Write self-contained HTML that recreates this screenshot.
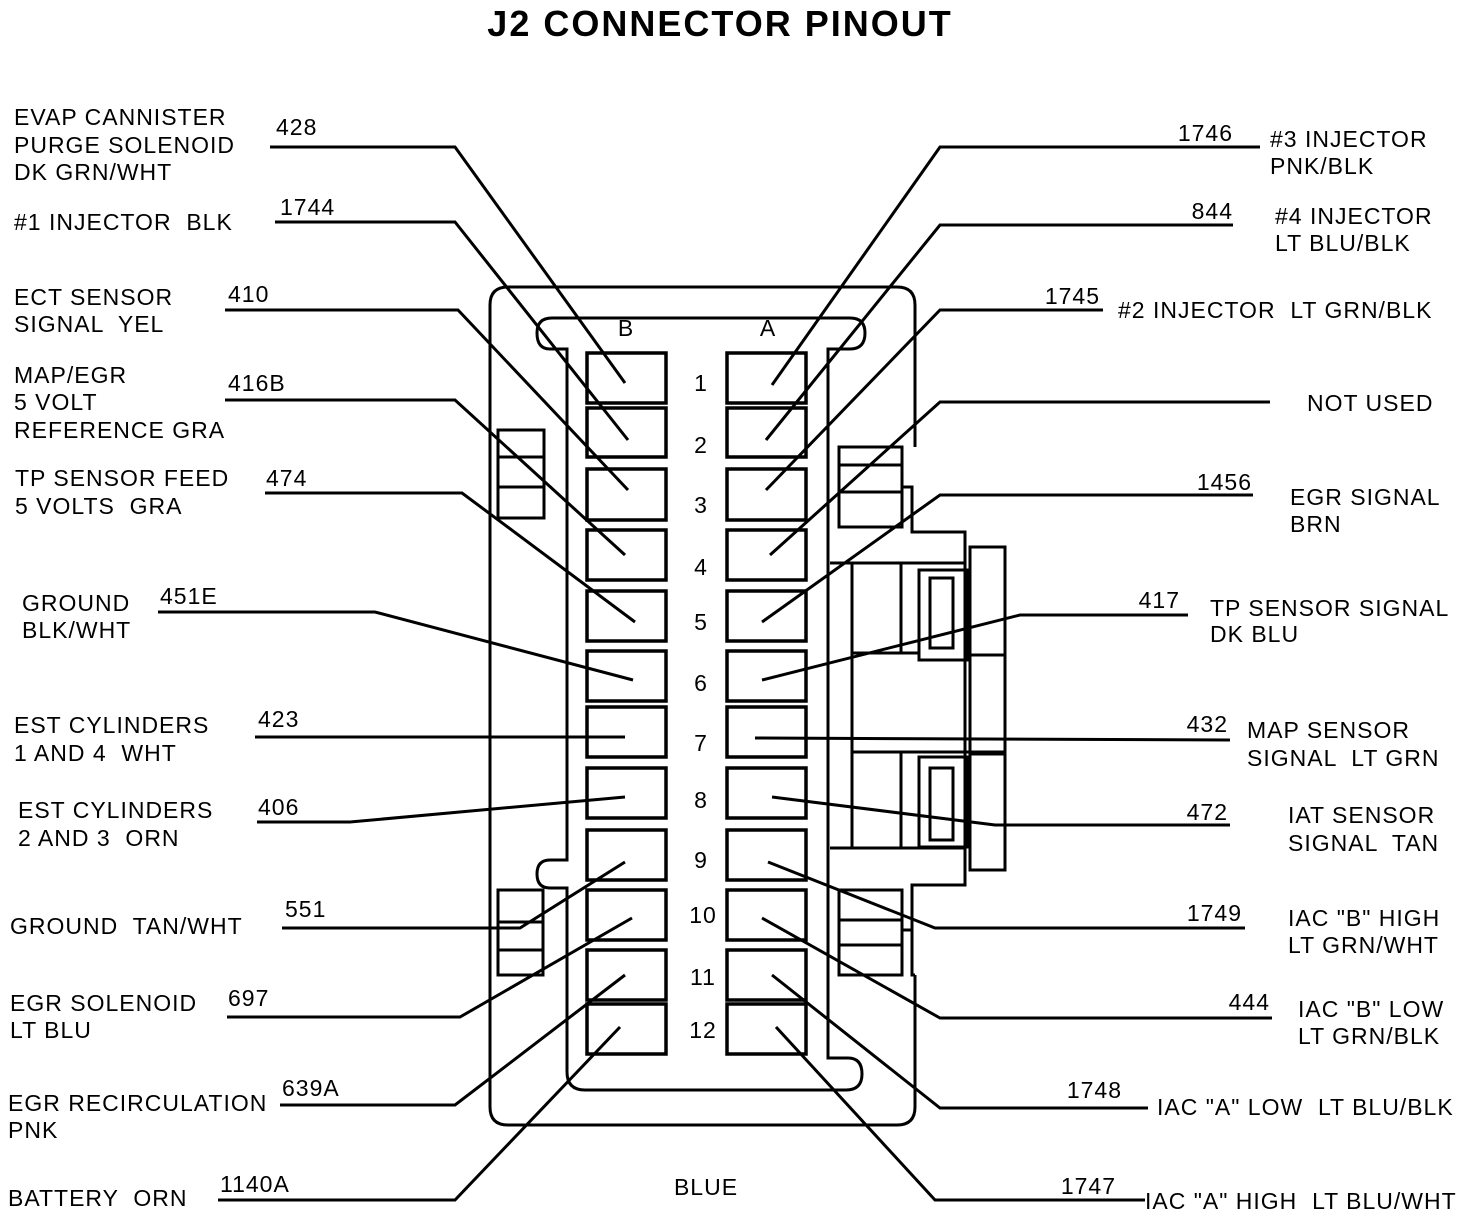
<!DOCTYPE html>
<html><head><meta charset="utf-8"><style>
html,body{margin:0;padding:0;background:#fff;}
svg{display:block}
text{font-family:"Liberation Sans",Arial,sans-serif;font-size:23px;fill:#000;letter-spacing:1px;white-space:pre;}
</style></head><body>
<svg width="1472" height="1220" viewBox="0 0 1472 1220" xmlns="http://www.w3.org/2000/svg" xml:space="preserve">
<text x="720" y="36" text-anchor="middle" style="font-size:36px;font-weight:bold;letter-spacing:2px">J2 CONNECTOR PINOUT</text>
<g fill="none" stroke="#000" stroke-width="3">
<path d="M915 447 L915 305 Q915 287 897 287 L508 287 Q490 287 490 305 L490 1107 Q490 1125 508 1125 L897 1125 Q915 1125 915 1107 L915 975"/>
<path d="M567 349 L550 349 Q537 349 537 333 Q537 318 552 318 L850 318 Q865 318 865 333 Q865 349 850 349 L828 349 L828 1058 L848 1058 Q862 1058 862 1074 Q862 1090 846 1090 L585 1090 Q567 1090 567 1072 L567 888 L550 888 Q537 888 537 874 Q537 860 550 860 L567 860 Z"/>
<g stroke-width="3.5">
<rect x="587" y="353" width="79" height="50"/><rect x="727" y="353" width="79" height="50"/>
<rect x="587" y="408" width="79" height="49"/><rect x="727" y="408" width="79" height="49"/>
<rect x="587" y="469" width="79" height="51"/><rect x="727" y="469" width="79" height="51"/>
<rect x="587" y="530" width="79" height="50"/><rect x="727" y="530" width="79" height="50"/>
<rect x="587" y="591" width="79" height="50"/><rect x="727" y="591" width="79" height="50"/>
<rect x="587" y="651" width="79" height="50"/><rect x="727" y="651" width="79" height="50"/>
<rect x="587" y="707" width="79" height="50"/><rect x="727" y="707" width="79" height="50"/>
<rect x="587" y="768" width="79" height="50"/><rect x="727" y="768" width="79" height="50"/>
<rect x="587" y="830" width="79" height="50"/><rect x="727" y="830" width="79" height="50"/>
<rect x="587" y="890" width="79" height="50"/><rect x="727" y="890" width="79" height="50"/>
<rect x="587" y="950" width="79" height="50"/><rect x="727" y="950" width="79" height="50"/>
<rect x="587" y="1004" width="79" height="50"/><rect x="727" y="1004" width="79" height="50"/>
</g>
<rect x="498" y="430" width="46" height="88"/><line x1="498" y1="457" x2="544" y2="457"/><line x1="498" y1="487" x2="544" y2="487"/>
<rect x="498" y="890" width="45" height="85"/><line x1="498" y1="922" x2="543" y2="922"/><line x1="498" y1="950" x2="543" y2="950"/>
<rect x="839" y="447" width="63" height="80"/><line x1="839" y1="465" x2="902" y2="465"/><line x1="839" y1="492" x2="902" y2="492"/>
<path d="M902 487 L912 487 L912 532 L965 532 L965 885 L912 885 L912 930 L902 930"/>
<rect x="839" y="890" width="63" height="85"/><line x1="839" y1="920" x2="902" y2="920"/><line x1="839" y1="945" x2="902" y2="945"/>
<path d="M902 930 L912 930 L912 975 L915 975"/>
<line x1="830" y1="563" x2="965" y2="563"/>
<line x1="852" y1="563" x2="852" y2="848"/>
<line x1="901" y1="563" x2="901" y2="653"/><line x1="901" y1="752" x2="901" y2="848"/>
<line x1="830" y1="848" x2="965" y2="848"/>
<line x1="852" y1="653" x2="920" y2="653"/>
<line x1="852" y1="752" x2="1005" y2="752"/>
<rect x="919" y="570" width="49" height="90"/><rect x="930" y="578" width="23" height="70"/>
<rect x="919" y="757" width="49" height="90"/><rect x="930" y="768" width="23" height="72"/>
<rect x="970" y="547" width="35" height="323"/><line x1="970" y1="655" x2="1005" y2="655"/><line x1="970" y1="754" x2="1005" y2="754"/>
<polyline points="270,147 455,147 625,383"/>
<polyline points="275,222 455,222 628,440"/>
<polyline points="225,310 458,310 628,490"/>
<polyline points="225,400 455,400 625,555"/>
<polyline points="265,493 462,493 635,622"/>
<polyline points="158,612 375,612 633,680"/>
<polyline points="255,737 625,737"/>
<polyline points="257,822 350,822 625,797"/>
<polyline points="282,928 520,928 625,862"/>
<polyline points="227,1017 460,1017 632,918"/>
<polyline points="280,1105 455,1105 625,975"/>
<polyline points="218,1200 455,1200 620,1027"/>
<polyline points="1260,147 940,147 772,385"/>
<polyline points="1233,225 940,225 766,440"/>
<polyline points="1103,310 940,310 766,490"/>
<polyline points="1270,402 940,402 770,555"/>
<polyline points="1253,495 940,495 762,622"/>
<polyline points="1188,615 1020,615 762,680"/>
<polyline points="1230,740 755,738"/>
<polyline points="1230,825 995,825 772,797"/>
<polyline points="1245,928 935,928 768,862"/>
<polyline points="1272,1018 940,1018 762,918"/>
<polyline points="1148,1108 940,1108 772,975"/>
<polyline points="1145,1200 935,1200 776,1027"/>
</g>
<text x="626" y="336" text-anchor="middle">B</text>
<text x="768" y="336" text-anchor="middle">A</text>
<g text-anchor="middle">
<text x="701" y="391">1</text><text x="701" y="453">2</text><text x="701" y="513">3</text><text x="701" y="575">4</text>
<text x="701" y="630">5</text><text x="701" y="691">6</text><text x="701" y="751">7</text><text x="701" y="808">8</text>
<text x="701" y="868">9</text><text x="703" y="923">10</text><text x="703" y="985">11</text><text x="703" y="1038">12</text>
<text x="706" y="1195">BLUE</text>
</g>
<text x="14" y="125">EVAP CANNISTER</text><text x="14" y="153">PURGE SOLENOID</text><text x="14" y="180">DK GRN/WHT</text>
<text x="276" y="135">428</text>
<text x="14" y="230">#1 INJECTOR  BLK</text><text x="280" y="215">1744</text>
<text x="14" y="305">ECT SENSOR</text><text x="14" y="332">SIGNAL  YEL</text><text x="228" y="302">410</text>
<text x="14" y="383">MAP/EGR</text><text x="14" y="410">5 VOLT</text><text x="14" y="438">REFERENCE GRA</text><text x="228" y="391">416B</text>
<text x="15" y="486">TP SENSOR FEED</text><text x="15" y="514">5 VOLTS  GRA</text><text x="266" y="486">474</text>
<text x="22" y="611">GROUND</text><text x="22" y="638">BLK/WHT</text><text x="160" y="604">451E</text>
<text x="14" y="733">EST CYLINDERS</text><text x="14" y="761">1 AND 4  WHT</text><text x="258" y="727">423</text>
<text x="18" y="818">EST CYLINDERS</text><text x="18" y="846">2 AND 3  ORN</text><text x="258" y="815">406</text>
<text x="10" y="934">GROUND  TAN/WHT</text><text x="285" y="917">551</text>
<text x="10" y="1011">EGR SOLENOID</text><text x="10" y="1038">LT BLU</text><text x="228" y="1006">697</text>
<text x="8" y="1111">EGR RECIRCULATION</text><text x="8" y="1138">PNK</text><text x="282" y="1096">639A</text>
<text x="8" y="1206">BATTERY  ORN</text><text x="220" y="1192">1140A</text>
<g text-anchor="end">
<text x="1233" y="141">1746</text><text x="1233" y="219">844</text><text x="1100" y="304">1745</text>
<text x="1252" y="490">1456</text><text x="1180" y="608">417</text><text x="1228" y="732">432</text>
<text x="1228" y="820">472</text><text x="1242" y="921">1749</text><text x="1270" y="1010">444</text>
<text x="1122" y="1098">1748</text><text x="1116" y="1194">1747</text>
</g>
<text x="1270" y="147">#3 INJECTOR</text><text x="1270" y="174">PNK/BLK</text>
<text x="1275" y="224">#4 INJECTOR</text><text x="1275" y="251">LT BLU/BLK</text>
<text x="1118" y="318">#2 INJECTOR  LT GRN/BLK</text>
<text x="1307" y="411">NOT USED</text>
<text x="1290" y="505">EGR SIGNAL</text><text x="1290" y="532">BRN</text>
<text x="1210" y="616">TP SENSOR SIGNAL</text><text x="1210" y="642">DK BLU</text>
<text x="1247" y="738">MAP SENSOR</text><text x="1247" y="766">SIGNAL  LT GRN</text>
<text x="1288" y="823">IAT SENSOR</text><text x="1288" y="851">SIGNAL  TAN</text>
<text x="1288" y="926">IAC "B" HIGH</text><text x="1288" y="953">LT GRN/WHT</text>
<text x="1298" y="1017">IAC "B" LOW</text><text x="1298" y="1044">LT GRN/BLK</text>
<text x="1157" y="1115">IAC "A" LOW  LT BLU/BLK</text>
<text x="1145" y="1209">IAC "A" HIGH  LT BLU/WHT</text>
</svg>
</body></html>
